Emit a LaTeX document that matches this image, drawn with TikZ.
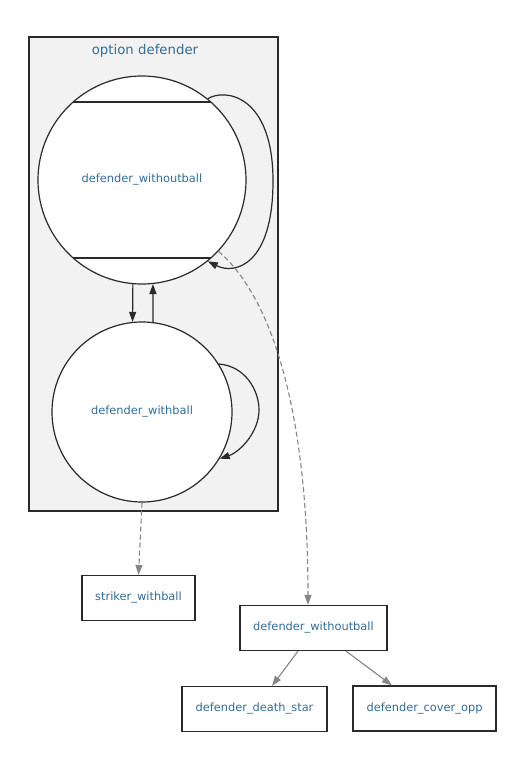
\documentclass[tikz,border=0pt]{standalone}
\usepackage{fontspec}
\setmainfont{DejaVu Sans}
\usetikzlibrary{arrows.meta,calc}
\definecolor{txtblue}{HTML}{336E96}
\definecolor{linedark}{HTML}{2A2A2A}
\definecolor{edgegray}{HTML}{858585}
\definecolor{clusterfill}{HTML}{F2F2F2}
\begin{document}
\begin{tikzpicture}[x=1pt,y=-1pt,
  lbl/.style={text=txtblue,font=\fontsize{11.4}{13}\selectfont},
  clusterbox/.style={draw=linedark,fill=clusterfill,line width=1.2pt,rectangle,inner sep=0pt},
  statecirc/.style={draw=linedark,fill=white,circle,line width=1.2pt,inner sep=0pt,lbl},
  boxnode/.style={draw=linedark,fill=white,rectangle,line width=1.2pt,inner sep=0pt,minimum height=45pt,lbl},
  blackarr/.style={draw=linedark,line width=1.2pt,-{Triangle[length=10pt,width=7pt]}},
  grayarr/.style={draw=edgegray,line width=1.1pt,-{Triangle[length=10pt,width=7pt,fill=edgegray]}},
  graydash/.style={grayarr,dash pattern=on 5pt off 3pt}
]
\useasboundingbox[fill=white] (0,0) rectangle (518,770);
\node[clusterbox,minimum width=249pt,minimum height=474pt] (cl) at (153.5,274) {};
\node[text=txtblue,font=\fontsize{13.3}{15}\selectfont] (title) at (145,51) {option defender};

\node[statecirc,minimum size=208pt] (c1) at (142,180) {defender\_withoutball};
\draw[linedark,line width=1.2pt] ([shift={(-68.8,-78)}]c1.center) -- ([shift={(68.8,-78)}]c1.center);
\draw[linedark,line width=1.2pt] ([shift={(-68.8,78)}]c1.center) -- ([shift={(68.8,78)}]c1.center);

\node[statecirc,minimum size=180pt] (c2) at (142,412) {defender\_withball};

\node[boxnode,minimum width=113pt] (sw) at (138.5,598) {striker\_withball};
\node[boxnode,minimum width=147pt] (dw) at (313.5,628) {defender\_withoutball};
\node[boxnode,minimum width=145pt] (ds) at (254.5,709) {defender\_death\_star};
\node[boxnode,minimum width=143pt] (cov) at (424.5,708.5) {defender\_cover\_opp};

% self loop on c1
\coordinate (l1) at (273,181);
\draw[blackarr] (c1.51) .. controls (225,88) and (273,95) .. (l1) .. controls (273,265) and (235,275) .. (c1.-51);
% self loop on c2
\coordinate (l2) at (259,410);
\draw[blackarr] (c2.32) .. controls (245,366) and (259,390) .. (l2) .. controls (259,432) and (240,452) .. (c2.-31);

% between circles
\draw[blackarr] (c1.265) -- (c2.96);
\draw[blackarr] (c2.83) -- (c1.276);

% dashed edges
\draw[graydash] (c2.south) -- (sw.north);
\draw[graydash] (c1.-43) .. controls (275,300) and (308,420) .. ([xshift=-5.5pt]dw.north);

% solid gray edges
\draw[grayarr] ([xshift=-15.5pt]dw.south) -- ([xshift=17.5pt]ds.north);
\draw[grayarr] ([xshift=32.5pt]dw.south) -- ([xshift=-32.5pt]cov.north);
\end{tikzpicture}
\end{document}
